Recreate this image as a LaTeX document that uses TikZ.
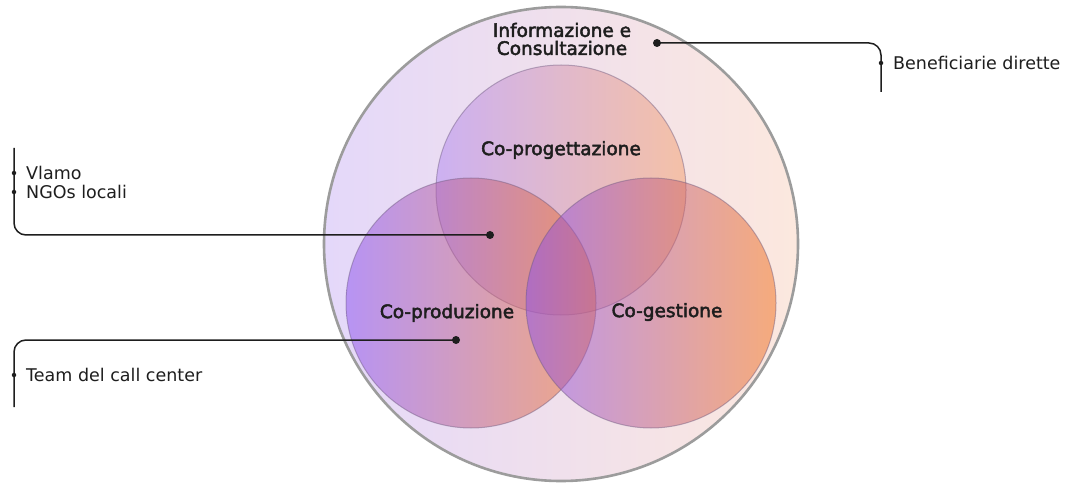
\documentclass[tikz,border=0pt]{standalone}
\usepackage{fontspec}
\setmainfont{DejaVu Sans}
\newfontfamily\labfont[FakeBold=2.6]{DejaVu Sans}
\definecolor{outerL}{HTML}{E4D8FA}
\definecolor{outerR}{HTML}{FCE8DE}
\definecolor{ringgray}{HTML}{9C9C9C}
\definecolor{purp}{HTML}{8A4FF0}
\definecolor{orng}{HTML}{F2701A}
\definecolor{edgec}{HTML}{6E5A80}
\definecolor{ink}{HTML}{1E1E1E}
\tikzset{
  outerring/.style={circle, minimum size=474pt, inner sep=0pt, outer sep=0pt,
    left color=outerL, right color=outerR, draw=ringgray, line width=2.6pt},
  venn/.style={circle, minimum size=250pt, inner sep=0pt, outer sep=0pt,
    left color=purp, right color=orng, fill opacity=#1,
    draw=edgec, draw opacity=0.45, line width=1pt},
  venn/.default=0.5,
  circlab/.style={font=\labfont\fontsize{18.5}{19}\selectfont, text=ink, inner sep=0pt, align=center},
  sidelab/.style={font=\fontsize{17.5}{20}\selectfont, text=ink, inner sep=0pt, anchor=west},
  leader/.style={draw=ink, line width=1.5pt, rounded corners=12pt},
  bigdot/.style={circle, fill=ink, inner sep=0pt, minimum size=8pt},
  smalldot/.style={circle, fill=ink, inner sep=0pt, minimum size=4.5pt}
}
\begin{document}
\begin{tikzpicture}[x=1pt,y=-1pt]
\useasboundingbox (0,0) rectangle (1070,486);
\fill[white] (0,0) rectangle (1070,486);

% outer circle
\node[outerring] (outer) at (561,244) {};

% venn circles
\node[venn=0.3] (prog) at (561,190) {};
\node[venn] (prod) at (471,303) {};
\node[venn] (gest) at (651,303) {};

% labels
\node[circlab] (tinfo) at (562,39) {Informazione e\\[-1pt]Consultazione};
\node[circlab] (tprog) at (561,150) {Co-progettazione};
\node[circlab] (tprod) at (447,313) {Co-produzione};
\node[circlab] (tgest) at (667,312) {Co-gestione};

% leader 1: Beneficiarie dirette
\node[bigdot] (d1) at (657,43) {};
\coordinate (b1top) at (881,43);
\coordinate (b1end) at (881,92);
\draw[leader] (d1.center) -- (b1top) -- (b1end);
\node[smalldot] (s1) at (881,63) {};
\node[sidelab] (tben) at (893,63) {Beneficiarie dirette};

% leader 2: Vlamo / NGOs locali
\node[bigdot] (d2) at (490,235) {};
\coordinate (b2start) at (14,148);
\coordinate (b2corner) at (14,235);
\draw[leader] (b2start) -- (b2corner) -- (d2.center);
\node[smalldot] (s2a) at (14,173) {};
\node[smalldot] (s2b) at (14,192) {};
\node[sidelab] (tvla) at (26,173) {Vlamo};
\node[sidelab] (tngo) at (26,192) {NGOs locali};

% leader 3: Team del call center
\node[bigdot] (d3) at (456,340) {};
\coordinate (b3corner) at (14,340);
\coordinate (b3end) at (14,407);
\draw[leader] (d3.center) -- (b3corner) -- (b3end);
\node[smalldot] (s3) at (14,375) {};
\node[sidelab] (tteam) at (26,375) {Team del call center};
\end{tikzpicture}
\end{document}
